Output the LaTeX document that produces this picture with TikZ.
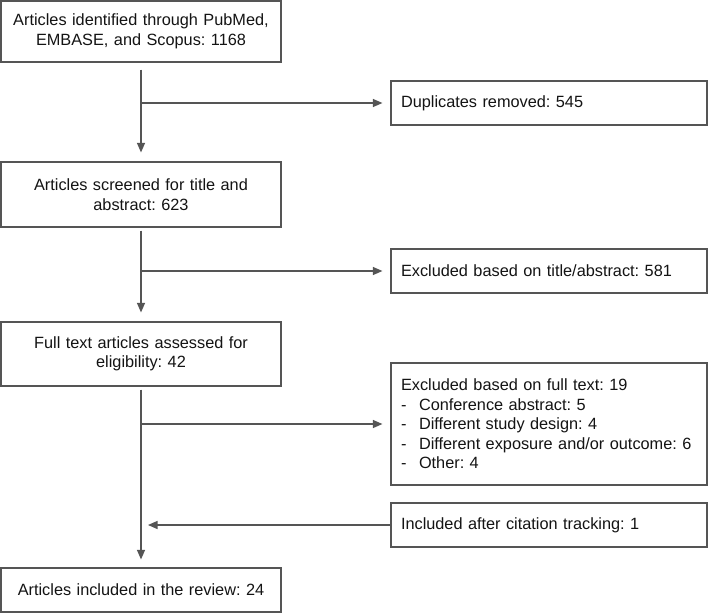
\documentclass[tikz,border=0pt]{standalone}
\usepackage{fontspec}
\setmainfont{Liberation Sans}
\usetikzlibrary{arrows.meta}
\definecolor{linegray}{RGB}{85,85,85}
\definecolor{textcol}{RGB}{20,20,20}
\frenchspacing
\begin{document}
\begin{tikzpicture}[x=1pt,y=-1pt,
  every node/.style={font=\fontsize{16.3}{19.5}\selectfont\frenchspacing, text=textcol},
  leftbox/.style={draw=linegray, line width=1.2pt, minimum width=280pt, text width=260pt, inner xsep=10pt, inner ysep=0pt, align=center},
  rightbox/.style={draw=linegray, line width=1.2pt, minimum width=316pt, text width=296pt, inner xsep=10pt, inner ysep=0pt, align=left},
  conn/.style={draw=linegray, line width=1.2pt},
  arr/.style={conn, -{Triangle[length=9.5pt,width=8pt]}}
]
\useasboundingbox (0,0) rectangle (708,613);
\fill[white] (0,0) rectangle (708,613);

\node[leftbox, minimum height=61pt] (b1) at (141,31.5) {Articles identified through PubMed,\\EMBASE, and Scopus: 1168};
\node[leftbox, minimum height=65pt] (b2) at (141,194.5) {Articles screened for title and\\abstract: 623};
\node[leftbox, minimum height=64pt] (b3) at (141,354) {Full text articles assessed for\\eligibility: 42};
\node[leftbox, minimum height=44pt] (b4) at (141,590) {Articles included in the review: 24};

\node[rightbox, minimum height=44pt] (dup) at (549,103) {Duplicates removed: 545};
\node[rightbox, minimum height=44pt] (ext) at (549,271) {Excluded based on title/abstract: 581};
\node[rightbox, minimum height=122pt] (exf) at (549,424) {Excluded based on full text: 19\\
\makebox[18pt][l]{-}Conference abstract: 5\\
\makebox[18pt][l]{-}Different study design: 4\\
\makebox[18pt][l]{-}Different exposure and/or outcome: 6\\
\makebox[18pt][l]{-}Other: 4};
\node[rightbox, minimum height=44pt] (cit) at (549,525) {Included after citation tracking: 1};

\coordinate (j1) at (b1.south |- dup.west);
\coordinate (j2) at (b2.south |- ext.west);
\coordinate (j3) at (b3.south |- exf.west);
\coordinate (j4) at (b3.south |- cit.west);

\draw[arr, shorten <=7pt, shorten >=9pt] (b1.south) -- (b2.north);
\draw[arr, shorten <=3pt, shorten >=9pt] (b2.south) -- (b3.north);
\draw[arr, shorten <=3pt, shorten >=8pt] (b3.south) -- (b4.north);

\draw[arr, shorten >=8pt] (j1) -- (dup.west);
\draw[arr, shorten >=8pt] (j2) -- (ext.west);
\draw[arr, shorten >=8pt] (j3) -- (exf.west);
\draw[arr, shorten >=7pt] (cit.west) -- (j4);
\end{tikzpicture}
\end{document}
